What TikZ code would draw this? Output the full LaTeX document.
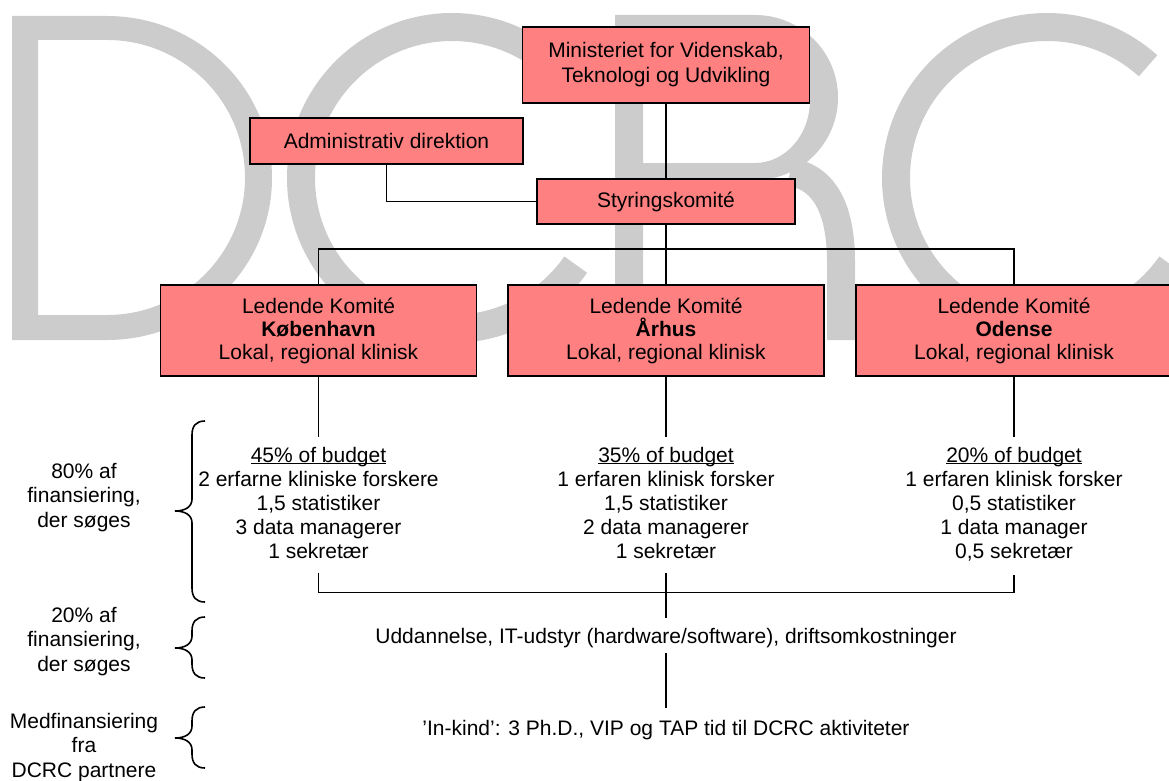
\documentclass[tikz,border=0pt]{standalone}
\usepackage{fontspec}
\setmainfont{Liberation Sans}
\usetikzlibrary{calc}
\definecolor{boxpink}{RGB}{255,128,128}
\definecolor{logogray}{RGB}{204,204,204}
\newcommand{\budgetul}[1]{\leavevmode\setbox0\hbox{#1}\rlap{\rule[-2.2pt]{\wd0}{1.3pt}}\box0}
\newcommand{\dcbrace}[3]{\draw[bracestyle] (205,#1) .. controls (196,#1) and (192,#1+5) .. (192,#1+14) -- (192,#2-12) .. controls (192,#2-4) and (185,#2) .. (175,#2) .. controls (185,#2) and (192,#2+4) .. (192,#2+12) -- (192,#3-14) .. controls (192,#3-5) and (196,#3) .. (205,#3);}
\begin{document}
\begin{tikzpicture}[x=1pt,y=-1pt,
  every node/.style={font=\fontsize{21}{24}\selectfont},
  orgbox/.style={draw=black, line width=1.8pt, fill=boxpink, align=center, inner sep=0pt},
  ledbox/.style={orgbox, minimum width=316pt, minimum height=91pt, font=\fontsize{21}{23}\selectfont},
  txt/.style={align=center, inner sep=0pt},
  conn/.style={draw=black, line width=1.8pt},
  bracestyle/.style={draw=black, line width=1.6pt}]
\useasboundingbox (0,0) rectangle (1169,781);
% background logo letters
\fill[logogray, even odd rule] (12,16) -- (107,16) arc[start angle=-90, end angle=90, x radius=165, y radius=162] -- (12,340) -- cycle
  (38,40) -- (107,40) arc[start angle=-90, end angle=90, x radius=138, y radius=137.5] -- (38,315) -- cycle;
\draw[logogray, line width=28pt] ([shift={(-48:151)}]452,178) arc[start angle=-48, end angle=-325, radius=151];
\fill[logogray, even odd rule] (615,15) -- (755,15) arc[start angle=-90, end angle=90, x radius=83, y radius=82.5] -- (643,180) -- (643,340) -- (615,340) -- cycle
  (643,37) -- (755,37) arc[start angle=-90, end angle=90, x radius=55, y radius=63] -- (643,163) -- cycle;
\draw[logogray, line width=28pt] (790,172) .. controls (828,178) and (841,215) .. (841,262) -- (841,340);
\draw[logogray, line width=28pt] ([shift={(-48:151)}]1047,178) arc[start angle=-48, end angle=-325, radius=151];
% boxes
\node[orgbox, minimum width=287pt, minimum height=76pt, font=\fontsize{21}{25}\selectfont] (min) at (666,65) {Ministeriet for Videnskab,\\Teknologi og Udvikling};
\node[orgbox, minimum width=273pt, minimum height=46pt] (adm) at (386.5,141) {Administrativ direktion};
\node[orgbox, minimum width=258pt, minimum height=45pt] (sty) at (666,201.5) {Styringskomité};
\node[ledbox] (kbh) at (318.5,330.5) {Ledende Komité\\\textbf{København}\\Lokal, regional klinisk};
\node[ledbox] (arh) at (666,330.5) {Ledende Komité\\\textbf{Århus}\\Lokal, regional klinisk};
\node[ledbox] (ode) at (1014,330.5) {Ledende Komité\\\textbf{Odense}\\Lokal, regional klinisk};
% connectors top
\draw[conn] (min.south) -- (sty.north);
\draw[conn] (adm.south) |- (sty.west);
\draw[conn] (sty.south) -- (arh.north);
\draw[conn] (kbh.north) -- ++(0,-35) -| (ode.north);
% budget texts
\node[txt, anchor=north] (bkbh) at (318.5,446.7) {\budgetul{45\% of budget}\\2 erfarne kliniske forskere\\1,5 statistiker\\3 data managerer\\1 sekretær};
\node[txt, anchor=north] (barh) at (666,446.7) {\budgetul{35\% of budget}\\1 erfaren klinisk forsker\\1,5 statistiker\\2 data managerer\\1 sekretær};
\node[txt, anchor=north] (bode) at (1014,446.7) {\budgetul{20\% of budget}\\1 erfaren klinisk forsker\\0,5 statistiker\\1 data manager\\0,5 sekretær};
\draw[conn] (kbh.south) -- ([yshift=10pt]bkbh.north);
\draw[conn] (arh.south) -- ([yshift=10pt]barh.north);
\draw[conn] (ode.south) -- ([yshift=10pt]bode.north);
\node[txt, anchor=base] (edu) at (666,643) {Uddannelse, IT-udstyr (hardware/software), driftsomkostninger};
\node[txt, anchor=base] (ink) at (666,735) {’In-kind’: 3 Ph.D., VIP og TAP tid til DCRC aktiviteter};
\draw[conn] ([yshift=-14pt]bkbh.south) -- ++(0,20) -| ([yshift=-14pt]bode.south);
\draw[conn] ([yshift=-14pt]barh.south) -- ([yshift=10pt]edu.north);
\draw[conn] ([yshift=-5pt]edu.south) -- ([yshift=12pt]ink.north);
% left labels and braces
\node[txt, anchor=north, font=\fontsize{21}{24.5}\selectfont] (l1) at (84,462.7) {80\% af\\finansiering,\\der søges};
\node[txt, anchor=north, font=\fontsize{21}{24.5}\selectfont] (l2) at (84,606.7) {20\% af\\finansiering,\\der søges};
\node[txt, anchor=north, font=\fontsize{21}{24.5}\selectfont] (l3) at (84,712.7) {Medfinansiering\\fra\\DCRC partnere};
\dcbrace{421}{511}{602}
\dcbrace{617}{648}{678}
\dcbrace{707}{738}{768}
\end{tikzpicture}
\end{document}
